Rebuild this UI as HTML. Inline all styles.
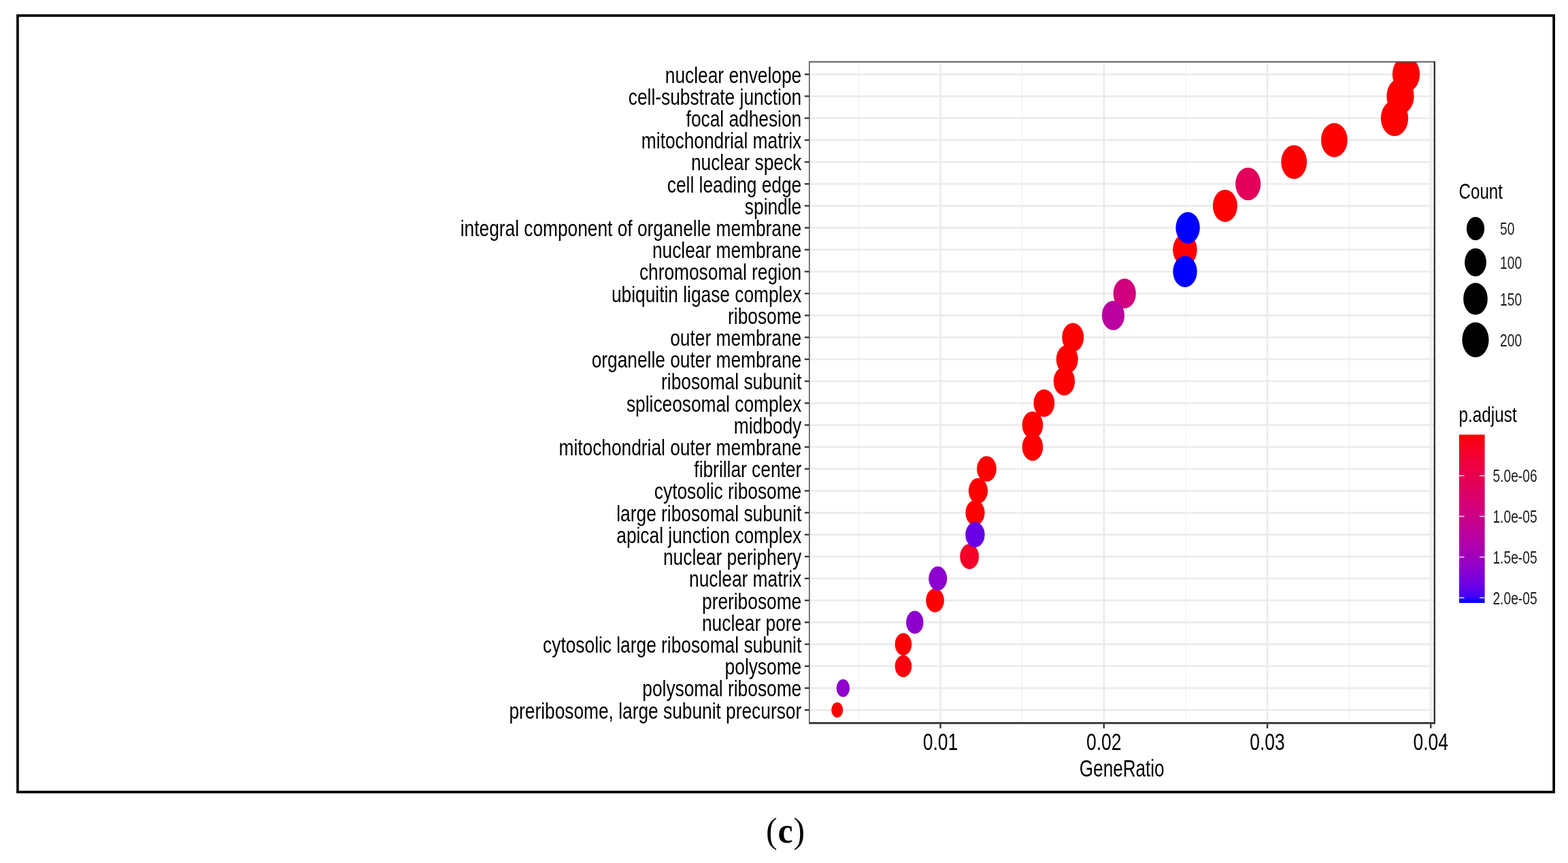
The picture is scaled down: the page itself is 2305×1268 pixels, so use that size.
<!DOCTYPE html>
<html lang="en"><head><meta charset="utf-8">
<style>html,body{margin:0;padding:0;background:#fff}body{width:2305px;height:1268px;overflow:hidden}svg{display:block}text{font-family:"Liberation Sans",sans-serif;fill:#000}.cap{font-family:"Liberation Serif",serif}</style></head><body>
<svg width="2305" height="1268" viewBox="0 0 2305 1268">
<defs><clipPath id="pc"><rect x="1189.00" y="90.00" width="921.00" height="973.80"/></clipPath>
<linearGradient id="cb" x1="0" y1="0" x2="0" y2="1"><stop offset="0.000" stop-color="#ff0000"/><stop offset="0.042" stop-color="#fb0017"/><stop offset="0.083" stop-color="#f80025"/><stop offset="0.125" stop-color="#f40031"/><stop offset="0.167" stop-color="#f0003c"/><stop offset="0.208" stop-color="#ec0046"/><stop offset="0.250" stop-color="#e80050"/><stop offset="0.292" stop-color="#e40059"/><stop offset="0.333" stop-color="#df0063"/><stop offset="0.375" stop-color="#da006c"/><stop offset="0.417" stop-color="#d50076"/><stop offset="0.458" stop-color="#cf007f"/><stop offset="0.500" stop-color="#ca0088"/><stop offset="0.542" stop-color="#c30092"/><stop offset="0.583" stop-color="#bc009c"/><stop offset="0.625" stop-color="#b500a5"/><stop offset="0.667" stop-color="#ad00af"/><stop offset="0.708" stop-color="#a400b9"/><stop offset="0.750" stop-color="#9a00c3"/><stop offset="0.792" stop-color="#8f00cc"/><stop offset="0.833" stop-color="#8200d6"/><stop offset="0.875" stop-color="#7300e0"/><stop offset="0.917" stop-color="#6000eb"/><stop offset="0.958" stop-color="#4500f5"/><stop offset="1.000" stop-color="#0000ff"/></linearGradient></defs>
<rect width="2305" height="1268" fill="#fff"/>
<g>
<rect x="25.95" y="22.9" width="2258.2" height="1140.8" fill="none" stroke="#000" stroke-width="3.7"/>
<g clip-path="url(#pc)">
<rect x="1261.72" y="90.0" width="1.3" height="973.8" fill="#f0f0f0"/>
<rect x="1501.97" y="90.0" width="1.3" height="973.8" fill="#f0f0f0"/>
<rect x="1742.22" y="90.0" width="1.3" height="973.8" fill="#f0f0f0"/>
<rect x="1982.47" y="90.0" width="1.3" height="973.8" fill="#f0f0f0"/>
<rect x="1381.30" y="90.0" width="2.4" height="973.8" fill="#ebebeb"/>
<rect x="1621.55" y="90.0" width="2.4" height="973.8" fill="#ebebeb"/>
<rect x="1861.80" y="90.0" width="2.4" height="973.8" fill="#ebebeb"/>
<rect x="2102.05" y="90.0" width="2.4" height="973.8" fill="#ebebeb"/>
<rect x="1189.0" y="107.80" width="921.0" height="2.8" fill="#ececec"/>
<rect x="1189.0" y="140.01" width="921.0" height="2.8" fill="#ececec"/>
<rect x="1189.0" y="172.21" width="921.0" height="2.8" fill="#ececec"/>
<rect x="1189.0" y="204.42" width="921.0" height="2.8" fill="#ececec"/>
<rect x="1189.0" y="236.63" width="921.0" height="2.8" fill="#ececec"/>
<rect x="1189.0" y="268.84" width="921.0" height="2.8" fill="#ececec"/>
<rect x="1189.0" y="301.04" width="921.0" height="2.8" fill="#ececec"/>
<rect x="1189.0" y="333.25" width="921.0" height="2.8" fill="#ececec"/>
<rect x="1189.0" y="365.46" width="921.0" height="2.8" fill="#ececec"/>
<rect x="1189.0" y="397.66" width="921.0" height="2.8" fill="#ececec"/>
<rect x="1189.0" y="429.87" width="921.0" height="2.8" fill="#ececec"/>
<rect x="1189.0" y="462.08" width="921.0" height="2.8" fill="#ececec"/>
<rect x="1189.0" y="494.28" width="921.0" height="2.8" fill="#ececec"/>
<rect x="1189.0" y="526.49" width="921.0" height="2.8" fill="#ececec"/>
<rect x="1189.0" y="558.70" width="921.0" height="2.8" fill="#ececec"/>
<rect x="1189.0" y="590.91" width="921.0" height="2.8" fill="#ececec"/>
<rect x="1189.0" y="623.11" width="921.0" height="2.8" fill="#ececec"/>
<rect x="1189.0" y="655.32" width="921.0" height="2.8" fill="#ececec"/>
<rect x="1189.0" y="687.53" width="921.0" height="2.8" fill="#ececec"/>
<rect x="1189.0" y="719.73" width="921.0" height="2.8" fill="#ececec"/>
<rect x="1189.0" y="751.94" width="921.0" height="2.8" fill="#ececec"/>
<rect x="1189.0" y="784.15" width="921.0" height="2.8" fill="#ececec"/>
<rect x="1189.0" y="816.35" width="921.0" height="2.8" fill="#ececec"/>
<rect x="1189.0" y="848.56" width="921.0" height="2.8" fill="#ececec"/>
<rect x="1189.0" y="880.77" width="921.0" height="2.8" fill="#ececec"/>
<rect x="1189.0" y="912.98" width="921.0" height="2.8" fill="#ececec"/>
<rect x="1189.0" y="945.18" width="921.0" height="2.8" fill="#ececec"/>
<rect x="1189.0" y="977.39" width="921.0" height="2.8" fill="#ececec"/>
<rect x="1189.0" y="1009.60" width="921.0" height="2.8" fill="#ececec"/>
<rect x="1189.0" y="1041.80" width="921.0" height="2.8" fill="#ececec"/>
<ellipse cx="2067.0" cy="109.20" rx="20.1" ry="26.4" fill="#ff0000"/>
<ellipse cx="2058.5" cy="141.41" rx="20.1" ry="26.4" fill="#ff0000"/>
<ellipse cx="2050.0" cy="173.61" rx="20.1" ry="26.4" fill="#ff0000"/>
<ellipse cx="1961.4" cy="205.82" rx="19.4" ry="25.1" fill="#ff0000"/>
<ellipse cx="1902.2" cy="238.03" rx="18.9" ry="24.9" fill="#ff0000"/>
<ellipse cx="1800.9" cy="302.44" rx="18.0" ry="23.7" fill="#ff0000"/>
<ellipse cx="1741.9" cy="366.86" rx="17.8" ry="23.1" fill="#ff0000"/>
<ellipse cx="1577.2" cy="495.68" rx="16.0" ry="21.2" fill="#ff0000"/>
<ellipse cx="1568.7" cy="527.89" rx="16.0" ry="21.0" fill="#ff0000"/>
<ellipse cx="1564.4" cy="560.10" rx="15.7" ry="21.0" fill="#ff0000"/>
<ellipse cx="1534.8" cy="592.31" rx="15.4" ry="20.2" fill="#ff0000"/>
<ellipse cx="1517.9" cy="624.51" rx="15.3" ry="20.0" fill="#ff0000"/>
<ellipse cx="1517.9" cy="656.72" rx="15.3" ry="20.2" fill="#ff0000"/>
<ellipse cx="1450.4" cy="688.93" rx="14.4" ry="18.8" fill="#ff0000"/>
<ellipse cx="1437.9" cy="721.13" rx="14.1" ry="18.7" fill="#ff0000"/>
<ellipse cx="1433.4" cy="753.34" rx="14.1" ry="18.6" fill="#ff0000"/>
<ellipse cx="1374.5" cy="882.17" rx="13.3" ry="17.5" fill="#ff0000"/>
<ellipse cx="1327.9" cy="946.58" rx="12.3" ry="16.4" fill="#ff0000"/>
<ellipse cx="1230.7" cy="1043.20" rx="8.5" ry="11.2" fill="#ff0000"/>
<ellipse cx="1327.9" cy="978.79" rx="12.3" ry="16.1" fill="#fd000d"/>
<ellipse cx="1425.1" cy="817.75" rx="13.9" ry="18.4" fill="#f6002a"/>
<ellipse cx="1834.7" cy="270.24" rx="18.5" ry="24.1" fill="#e3005b"/>
<ellipse cx="1653.2" cy="431.27" rx="16.6" ry="22.0" fill="#d1007d"/>
<ellipse cx="1636.4" cy="463.48" rx="16.6" ry="21.6" fill="#ba009f"/>
<ellipse cx="1378.7" cy="849.96" rx="13.5" ry="17.7" fill="#8d00ce"/>
<ellipse cx="1344.8" cy="914.38" rx="12.7" ry="16.8" fill="#8d00ce"/>
<ellipse cx="1239.3" cy="1011.00" rx="9.7" ry="13.1" fill="#8d00ce"/>
<ellipse cx="1433.4" cy="785.55" rx="14.2" ry="18.6" fill="#6800e7"/>
<ellipse cx="1746.1" cy="334.65" rx="17.7" ry="23.1" fill="#0000ff"/>
<ellipse cx="1742.0" cy="399.06" rx="17.7" ry="23.0" fill="#0000ff"/>
</g>
<rect x="1189.00" y="90.00" width="921.00" height="1.7" fill="#4c4c4c"/>
<rect x="1189.00" y="1061.00" width="921.00" height="2.8" fill="#363636"/>
<rect x="1189.00" y="90.00" width="1.5" height="973.80" fill="#4c4c4c"/>
<rect x="2107.60" y="90.00" width="2.4" height="973.80" fill="#363636"/>
<rect x="1182.8" y="108.00" width="6.4" height="2.4" fill="#3c3c3c"/>
<text transform="translate(1178.20 121.55) scale(0.7763 1)" font-size="33.90" text-anchor="end">nuclear envelope</text>
<rect x="1182.8" y="140.21" width="6.4" height="2.4" fill="#3c3c3c"/>
<text transform="translate(1178.20 153.76) scale(0.7763 1)" font-size="33.90" text-anchor="end">cell-substrate junction</text>
<rect x="1182.8" y="172.41" width="6.4" height="2.4" fill="#3c3c3c"/>
<text transform="translate(1178.20 185.96) scale(0.7763 1)" font-size="33.90" text-anchor="end">focal adhesion</text>
<rect x="1182.8" y="204.62" width="6.4" height="2.4" fill="#3c3c3c"/>
<text transform="translate(1178.20 218.17) scale(0.7763 1)" font-size="33.90" text-anchor="end">mitochondrial matrix</text>
<rect x="1182.8" y="236.83" width="6.4" height="2.4" fill="#3c3c3c"/>
<text transform="translate(1178.20 250.38) scale(0.7763 1)" font-size="33.90" text-anchor="end">nuclear speck</text>
<rect x="1182.8" y="269.04" width="6.4" height="2.4" fill="#3c3c3c"/>
<text transform="translate(1178.20 282.59) scale(0.7763 1)" font-size="33.90" text-anchor="end">cell leading edge</text>
<rect x="1182.8" y="301.24" width="6.4" height="2.4" fill="#3c3c3c"/>
<text transform="translate(1178.20 314.79) scale(0.7763 1)" font-size="33.90" text-anchor="end">spindle</text>
<rect x="1182.8" y="333.45" width="6.4" height="2.4" fill="#3c3c3c"/>
<text transform="translate(1178.20 347.00) scale(0.7763 1)" font-size="33.90" text-anchor="end">integral component of organelle membrane</text>
<rect x="1182.8" y="365.66" width="6.4" height="2.4" fill="#3c3c3c"/>
<text transform="translate(1178.20 379.21) scale(0.7763 1)" font-size="33.90" text-anchor="end">nuclear membrane</text>
<rect x="1182.8" y="397.86" width="6.4" height="2.4" fill="#3c3c3c"/>
<text transform="translate(1178.20 411.41) scale(0.7763 1)" font-size="33.90" text-anchor="end">chromosomal region</text>
<rect x="1182.8" y="430.07" width="6.4" height="2.4" fill="#3c3c3c"/>
<text transform="translate(1178.20 443.62) scale(0.7763 1)" font-size="33.90" text-anchor="end">ubiquitin ligase complex</text>
<rect x="1182.8" y="462.28" width="6.4" height="2.4" fill="#3c3c3c"/>
<text transform="translate(1178.20 475.83) scale(0.7763 1)" font-size="33.90" text-anchor="end">ribosome</text>
<rect x="1182.8" y="494.48" width="6.4" height="2.4" fill="#3c3c3c"/>
<text transform="translate(1178.20 508.03) scale(0.7763 1)" font-size="33.90" text-anchor="end">outer membrane</text>
<rect x="1182.8" y="526.69" width="6.4" height="2.4" fill="#3c3c3c"/>
<text transform="translate(1178.20 540.24) scale(0.7763 1)" font-size="33.90" text-anchor="end">organelle outer membrane</text>
<rect x="1182.8" y="558.90" width="6.4" height="2.4" fill="#3c3c3c"/>
<text transform="translate(1178.20 572.45) scale(0.7763 1)" font-size="33.90" text-anchor="end">ribosomal subunit</text>
<rect x="1182.8" y="591.11" width="6.4" height="2.4" fill="#3c3c3c"/>
<text transform="translate(1178.20 604.66) scale(0.7763 1)" font-size="33.90" text-anchor="end">spliceosomal complex</text>
<rect x="1182.8" y="623.31" width="6.4" height="2.4" fill="#3c3c3c"/>
<text transform="translate(1178.20 636.86) scale(0.7763 1)" font-size="33.90" text-anchor="end">midbody</text>
<rect x="1182.8" y="655.52" width="6.4" height="2.4" fill="#3c3c3c"/>
<text transform="translate(1178.20 669.07) scale(0.7763 1)" font-size="33.90" text-anchor="end">mitochondrial outer membrane</text>
<rect x="1182.8" y="687.73" width="6.4" height="2.4" fill="#3c3c3c"/>
<text transform="translate(1178.20 701.28) scale(0.7763 1)" font-size="33.90" text-anchor="end">fibrillar center</text>
<rect x="1182.8" y="719.93" width="6.4" height="2.4" fill="#3c3c3c"/>
<text transform="translate(1178.20 733.48) scale(0.7763 1)" font-size="33.90" text-anchor="end">cytosolic ribosome</text>
<rect x="1182.8" y="752.14" width="6.4" height="2.4" fill="#3c3c3c"/>
<text transform="translate(1178.20 765.69) scale(0.7763 1)" font-size="33.90" text-anchor="end">large ribosomal subunit</text>
<rect x="1182.8" y="784.35" width="6.4" height="2.4" fill="#3c3c3c"/>
<text transform="translate(1178.20 797.90) scale(0.7763 1)" font-size="33.90" text-anchor="end">apical junction complex</text>
<rect x="1182.8" y="816.55" width="6.4" height="2.4" fill="#3c3c3c"/>
<text transform="translate(1178.20 830.10) scale(0.7763 1)" font-size="33.90" text-anchor="end">nuclear periphery</text>
<rect x="1182.8" y="848.76" width="6.4" height="2.4" fill="#3c3c3c"/>
<text transform="translate(1178.20 862.31) scale(0.7763 1)" font-size="33.90" text-anchor="end">nuclear matrix</text>
<rect x="1182.8" y="880.97" width="6.4" height="2.4" fill="#3c3c3c"/>
<text transform="translate(1178.20 894.52) scale(0.7763 1)" font-size="33.90" text-anchor="end">preribosome</text>
<rect x="1182.8" y="913.18" width="6.4" height="2.4" fill="#3c3c3c"/>
<text transform="translate(1178.20 926.73) scale(0.7763 1)" font-size="33.90" text-anchor="end">nuclear pore</text>
<rect x="1182.8" y="945.38" width="6.4" height="2.4" fill="#3c3c3c"/>
<text transform="translate(1178.20 958.93) scale(0.7763 1)" font-size="33.90" text-anchor="end">cytosolic large ribosomal subunit</text>
<rect x="1182.8" y="977.59" width="6.4" height="2.4" fill="#3c3c3c"/>
<text transform="translate(1178.20 991.14) scale(0.7763 1)" font-size="33.90" text-anchor="end">polysome</text>
<rect x="1182.8" y="1009.80" width="6.4" height="2.4" fill="#3c3c3c"/>
<text transform="translate(1178.20 1023.35) scale(0.7763 1)" font-size="33.90" text-anchor="end">polysomal ribosome</text>
<rect x="1182.8" y="1042.00" width="6.4" height="2.4" fill="#3c3c3c"/>
<text transform="translate(1178.20 1055.55) scale(0.7763 1)" font-size="33.90" text-anchor="end">preribosome, large subunit precursor</text>
<rect x="1381.30" y="1063.50" width="2.4" height="6.6" fill="#363636"/>
<text transform="translate(1382.50 1101.90) scale(0.7390 1)" font-size="35.80" text-anchor="middle">0.01</text>
<rect x="1621.55" y="1063.50" width="2.4" height="6.6" fill="#363636"/>
<text transform="translate(1622.75 1101.90) scale(0.7390 1)" font-size="35.80" text-anchor="middle">0.02</text>
<rect x="1861.80" y="1063.50" width="2.4" height="6.6" fill="#363636"/>
<text transform="translate(1863.00 1101.90) scale(0.7390 1)" font-size="35.80" text-anchor="middle">0.03</text>
<rect x="2102.05" y="1063.50" width="2.4" height="6.6" fill="#363636"/>
<text transform="translate(2103.25 1101.90) scale(0.7390 1)" font-size="35.80" text-anchor="middle">0.04</text>
<text transform="translate(1649.20 1141.10) scale(0.7460 1)" font-size="35.00" text-anchor="middle">GeneRatio</text>
<text transform="translate(2144.5 292.3) scale(0.7600 1)" font-size="31.80">Count</text>
<ellipse cx="2169.0" cy="335.80" rx="13.15" ry="17.10" fill="#000"/>
<text transform="translate(2205.0 345.10) scale(0.7380 1)" font-size="26.10" style="fill:#1c1c1c">50</text>
<ellipse cx="2169.0" cy="385.40" rx="15.90" ry="20.70" fill="#000"/>
<text transform="translate(2205.0 394.60) scale(0.7380 1)" font-size="26.10" style="fill:#1c1c1c">100</text>
<ellipse cx="2169.0" cy="439.10" rx="17.85" ry="23.50" fill="#000"/>
<text transform="translate(2205.0 448.70) scale(0.7380 1)" font-size="26.10" style="fill:#1c1c1c">150</text>
<ellipse cx="2169.0" cy="499.25" rx="19.60" ry="25.65" fill="#000"/>
<text transform="translate(2205.0 508.70) scale(0.7380 1)" font-size="26.10" style="fill:#1c1c1c">200</text>
<text transform="translate(2144.5 619.5) scale(0.7870 1)" font-size="30.90">p.adjust</text>
<rect x="2144.9" y="638.6" width="37.7" height="247.3" fill="url(#cb)"/>
<rect x="2144.9" y="698.00" width="7.6" height="1.8" fill="#fff" fill-opacity="0.75"/>
<rect x="2175.0" y="698.00" width="7.6" height="1.8" fill="#fff" fill-opacity="0.75"/>
<text transform="translate(2194.4 707.70) scale(0.7380 1)" font-size="26.10" style="fill:#1c1c1c">5.0e-06</text>
<rect x="2144.9" y="757.80" width="7.6" height="1.8" fill="#fff" fill-opacity="0.75"/>
<rect x="2175.0" y="757.80" width="7.6" height="1.8" fill="#fff" fill-opacity="0.75"/>
<text transform="translate(2194.4 767.70) scale(0.7380 1)" font-size="26.10" style="fill:#1c1c1c">1.0e-05</text>
<rect x="2144.9" y="817.60" width="7.6" height="1.8" fill="#fff" fill-opacity="0.75"/>
<rect x="2175.0" y="817.60" width="7.6" height="1.8" fill="#fff" fill-opacity="0.75"/>
<text transform="translate(2194.4 827.60) scale(0.7380 1)" font-size="26.10" style="fill:#1c1c1c">1.5e-05</text>
<rect x="2144.9" y="877.40" width="7.6" height="1.8" fill="#fff" fill-opacity="0.75"/>
<rect x="2175.0" y="877.40" width="7.6" height="1.8" fill="#fff" fill-opacity="0.75"/>
<text transform="translate(2194.4 887.60) scale(0.7380 1)" font-size="26.10" style="fill:#1c1c1c">2.0e-05</text>
<text class="cap" transform="translate(1125.97 1237.6) scale(0.93 1)" font-size="53.5">(<tspan font-weight="bold" dx="1.14">c</tspan><tspan dx="0.94">)</tspan></text>
</g>
</svg></body></html>
